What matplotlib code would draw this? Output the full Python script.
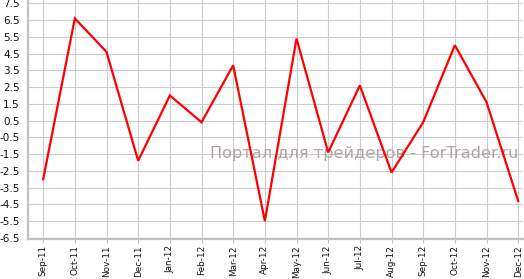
import numpy as np
import matplotlib
matplotlib.use("Agg")
import matplotlib.pyplot as plt

months = ['Sep-11', 'Oct-11', 'Nov-11', 'Dec-11', 'Jan-12', 'Feb-12', 'Mar-12', 'Apr-12',
          'May-12', 'Jun-12', 'Jul-12', 'Aug-12', 'Sep-12', 'Oct-12', 'Nov-12', 'Dec-12']
values = [-3.0, 6.6, 4.6, -1.9, 2.0, 0.4, 3.8, -5.5, 5.4, -1.4, 2.6, -2.6, 0.4, 5.0, 1.6, -4.3]
yticks = [7.5, 6.5, 5.5, 4.5, 3.5, 2.5, 1.5, 0.5, -0.5, -1.5, -2.5, -3.5, -4.5, -5.5, -6.5]

fig = plt.figure(figsize=(5.24, 2.79), dpi=100)
ax = fig.add_axes([0.0534, 0.1434, 0.9446, 0.8566])

x = np.arange(len(months))
ax.plot(x, values, color='#ff0000', linewidth=1.6, zorder=3, solid_joinstyle='miter')

ax.set_xlim(-0.48, 15.15)
ax.set_ylim(-6.57, 7.7)
ax.set_xticks(x)
ax.set_xticklabels(months, rotation=90, fontsize=6.4, color='#111111')
ax.set_yticks(yticks)
ax.set_yticklabels([f'{v:.1f}' for v in yticks], fontsize=7.5, color='#111111')

ax.grid(True, color='#cccccc', linewidth=0.8)
ax.set_axisbelow(True)
for s in ['top', 'right']:
    ax.spines[s].set_visible(False)
for s in ['left', 'bottom']:
    ax.spines[s].set_color('#c0c0c0')
    ax.spines[s].set_linewidth(1.6)
ax.tick_params(axis='x', length=3, width=0.8, color='#c0c0c0', pad=1.5)
ax.tick_params(axis='y', length=0, pad=6)

ax.text(15.0, -1.72, 'Портал для трейдеров - ForTrader.ru', fontsize=11.6,
        color='#b0a4a4', ha='right', va='baseline', zorder=2)

fig.savefig('out.png', dpi=100)
